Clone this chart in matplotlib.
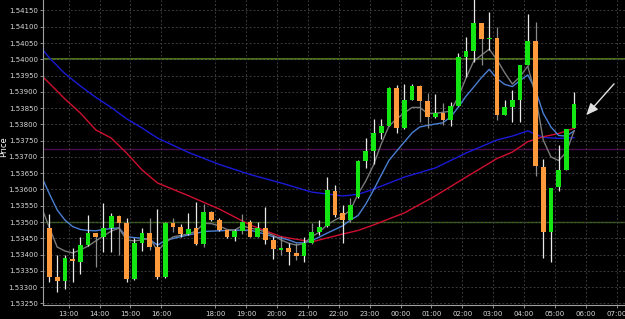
import matplotlib
matplotlib.use('Agg')
import matplotlib.pyplot as plt
import numpy as np

# ── 15-min candles (index 0..68) ──
opens = [1.53483, 1.53330, 1.53320, 1.53387, 1.53378, 1.53429, 1.53465, 1.53455, 1.53483, 1.53519,
         1.53496, 1.53325, 1.53435, 1.53465, 1.53424, 1.53330, 1.53496, 1.53486, 1.53463, 1.53481,
         1.53432, 1.53530, 1.53506, 1.53475, 1.53453, 1.53473, 1.53501, 1.53455, 1.53481, 1.53445,
         1.53414, 1.53419, 1.53406, 1.53396, 1.53436, 1.53468, 1.53489, 1.53596, 1.53527, 1.53506,
         1.53578, 1.53687, 1.53719, 1.53774, 1.53795, 1.53911, 1.53788, 1.53875, 1.53918, 1.53873,
         1.53822, 1.53834, 1.53813, 1.53856, 1.54006, 1.54026, 1.54112, 1.54061, 1.54066, 1.53829,
         1.53852, 1.53875, 1.53982, 1.54056, 1.53668, 1.53470, 1.53607, 1.53660, 1.53788]
highs = [1.53525, 1.53399, 1.53399, 1.53419, 1.53455, 1.53522, 1.53467, 1.53557, 1.53527, 1.53522,
         1.53511, 1.53450, 1.53481, 1.53511, 1.53539, 1.53499, 1.53511, 1.53494, 1.53527, 1.53562,
         1.53554, 1.53535, 1.53511, 1.53476, 1.53478, 1.53524, 1.53506, 1.53501, 1.53547, 1.53457,
         1.53457, 1.53435, 1.53435, 1.53453, 1.53496, 1.53506, 1.53639, 1.53614, 1.53552, 1.53573,
         1.53691, 1.53757, 1.53816, 1.53816, 1.53914, 1.53921, 1.53923, 1.53924, 1.53921, 1.53897,
         1.53893, 1.53865, 1.53870, 1.54018, 1.54069, 1.54190, 1.54112, 1.54146, 1.54100, 1.53875,
         1.53906, 1.53982, 1.54139, 1.54116, 1.53694, 1.53605, 1.53737, 1.53785, 1.53900]
lows = [1.53317, 1.53284, 1.53294, 1.53317, 1.53339, 1.53426, 1.53363, 1.53409, 1.53409, 1.53399,
        1.53317, 1.53322, 1.53412, 1.53414, 1.53325, 1.53328, 1.53470, 1.53455, 1.53460, 1.53430,
        1.53422, 1.53504, 1.53473, 1.53452, 1.53443, 1.53462, 1.53455, 1.53453, 1.53432, 1.53385,
        1.53399, 1.53368, 1.53383, 1.53378, 1.53432, 1.53460, 1.53486, 1.53516, 1.53435, 1.53499,
        1.53574, 1.53665, 1.53678, 1.53754, 1.53795, 1.53773, 1.53785, 1.53875, 1.53808, 1.53788,
        1.53819, 1.53798, 1.53795, 1.53856, 1.53947, 1.53993, 1.53982, 1.54029, 1.53813, 1.53829,
        1.53808, 1.53808, 1.53982, 1.53641, 1.53388, 1.53378, 1.53596, 1.53660, 1.53788]
closes = [1.53332, 1.53320, 1.53388, 1.53379, 1.53429, 1.53465, 1.53455, 1.53483, 1.53519, 1.53496,
          1.53325, 1.53435, 1.53465, 1.53424, 1.53330, 1.53496, 1.53486, 1.53463, 1.53479, 1.53432,
          1.53530, 1.53506, 1.53475, 1.53453, 1.53473, 1.53501, 1.53455, 1.53481, 1.53445, 1.53416,
          1.53421, 1.53407, 1.53396, 1.53436, 1.53470, 1.53486, 1.53598, 1.53522, 1.53506, 1.53552,
          1.53687, 1.53719, 1.53773, 1.53795, 1.53911, 1.53788, 1.53875, 1.53918, 1.53873, 1.53822,
          1.53834, 1.53813, 1.53856, 1.54006, 1.54026, 1.54112, 1.54061, 1.54066, 1.53829, 1.53852,
          1.53875, 1.53982, 1.54056, 1.53672, 1.53470, 1.53605, 1.53660, 1.53785, 1.53863]
grey_wicks = [6, 9, 13, 16, 20, 25, 30, 32, 34, 39, 48, 49, 51, 56, 58, 63]

# ── moving averages, one value per candle from index -1 ──
ma_fast = [1.53543, 1.53482, 1.53423, 1.53411, 1.53405, 1.53414, 1.53426, 1.53442, 1.53457, 1.53472,
           1.53481, 1.53445, 1.53442, 1.53445, 1.53451, 1.53411, 1.53436, 1.53454, 1.53459, 1.53463,
           1.53472, 1.53496, 1.53495, 1.53488, 1.53477, 1.53475, 1.53489, 1.53481, 1.53477, 1.53469,
           1.53459, 1.53445, 1.53435, 1.53429, 1.53434, 1.53455, 1.53469, 1.53492, 1.53506, 1.53518,
           1.53537, 1.53586, 1.53626, 1.53675, 1.53740, 1.53795, 1.53817, 1.53835, 1.53852, 1.53852,
           1.53834, 1.53834, 1.53837, 1.53841, 1.53885, 1.53943, 1.53995, 1.54013, 1.54031, 1.53999,
           1.53959, 1.53924, 1.53947, 1.53979, 1.53890, 1.53752, 1.53700, 1.53689, 1.53715, 1.53780]
ma_mid = [1.53638, 1.53586, 1.53537, 1.53506, 1.53486, 1.53477, 1.53474, 1.53473, 1.53477, 1.53480,
          1.53482, 1.53455, 1.53452, 1.53450, 1.53446, 1.53429, 1.53443, 1.53449, 1.53455, 1.53460,
          1.53465, 1.53471, 1.53472, 1.53473, 1.53474, 1.53475, 1.53475, 1.53475, 1.53469, 1.53462,
          1.53455, 1.53451, 1.53445, 1.53436, 1.53436, 1.53443, 1.53454, 1.53466, 1.53477, 1.53488,
          1.53506, 1.53520, 1.53555, 1.53598, 1.53644, 1.53689, 1.53718, 1.53746, 1.53774, 1.53792,
          1.53797, 1.53801, 1.53805, 1.53823, 1.53853, 1.53887, 1.53915, 1.53944, 1.53969, 1.53941,
          1.53923, 1.53916, 1.53935, 1.53952, 1.53906, 1.53834, 1.53792, 1.53766, 1.53764, 1.53780]

slow_x = [-1, 0, 2, 4, 6, 8, 10, 12, 14, 18, 22, 26, 30, 34, 38, 40, 42, 46, 50, 54, 58, 60, 62, 64, 66, 68]
ma_slow_blue = [1.54033, 1.54004, 1.53956, 1.53918, 1.53883, 1.53852, 1.53817, 1.53789, 1.53758, 1.53714,
                1.53677, 1.53646, 1.53620, 1.53592, 1.53580, 1.53585, 1.53601, 1.53638, 1.53666, 1.53712,
                1.53752, 1.53764, 1.53780, 1.53760, 1.53757, 1.53759]
ma_slow_red = [1.53949, 1.53926, 1.53878, 1.53835, 1.53783, 1.53758, 1.53712, 1.53660, 1.53620, 1.53581,
               1.53540, 1.53491, 1.53455, 1.53439, 1.53463, 1.53474, 1.53491, 1.53528, 1.53580, 1.53638,
               1.53695, 1.53715, 1.53747, 1.53762, 1.53772, 1.53788]

level_green = [1.54000, 1.53500]
level_purple = 1.53723

tick_pos = [2.5, 6.5, 10.5, 14.5, 21.5, 25.5, 29.5, 33.5, 37.5, 41.5, 45.5, 49.5,
            53.5, 57.5, 61.5, 65.5, 69.5, 73.5]
tick_lab = ['13:00', '14:00', '15:00', '16:00', '18:00', '19:00', '20:00', '21:00', '22:00',
            '23:00', '00:00', '01:00', '02:00', '03:00', '04:00', '05:00', '06:00', '07:00']
price_ticks = np.arange(1.5325, 1.54151, 0.0005)

BULL = '#14e614'
BEAR = '#ff9a3c'

fig = plt.figure(figsize=(6.25, 3.19), dpi=100, facecolor='black')
ax = fig.add_axes([0.0693, 0.0439, 0.9307, 0.9561], facecolor='black')

# grid + level lines
ax.grid(True, color='#3a3a3a', linestyle=(0, (2, 2)), linewidth=0.7, zorder=0)
ax.axhline(level_green[0], color='#5a8a1e', lw=1.2, zorder=1)
ax.axhline(level_green[1], color='#3d6b14', lw=1.0, zorder=1)
ax.axhline(level_purple, color='#4a0f4a', lw=1.0, zorder=1)

# moving averages
idx = np.arange(-1, len(opens))
ax.plot(slow_x, ma_slow_blue, color='#1a1ad8', lw=1.0, zorder=2)
ax.plot(slow_x, ma_slow_red, color='#d01030', lw=1.0, zorder=2)
ax.plot(idx, ma_mid, color='#4a7fd4', lw=1.0, zorder=2)
ax.plot(idx, ma_fast, color='#7a7a7a', lw=1.0, zorder=2)

# candles
x = np.arange(len(opens))
o = np.array(opens); c = np.array(closes)
wick_cols = ['#8a8a8a' if i in grey_wicks else '#e8e8e8' for i in x]
ax.vlines(x, lows, highs, colors=wick_cols, lw=0.9, zorder=3)
body_col = [BULL if cc >= oo else BEAR for oo, cc in zip(o, c)]
heights = np.maximum(np.abs(c - o), 0.00004)
ax.bar(x, heights, bottom=np.minimum(o, c), width=0.62, color=body_col, zorder=4)

# arrow
ax.annotate('', xy=(69.35, 1.53822), xytext=(73.42, 1.53931),
            arrowprops=dict(arrowstyle='-|>,head_length=0.7,head_width=0.3',
                            color='#e0e0e0', lw=1.0), zorder=5)

ax.set_xlim(-0.8, 74.6)
ax.set_ylim(1.53245, 1.541822)
ax.set_xticks(tick_pos)
ax.set_xticklabels(tick_lab)
ax.set_yticks(price_ticks)
ax.set_yticklabels([f'{v:.5f}' for v in price_ticks])
ax.tick_params(colors='#a0a0a0', labelcolor='#d8d8d8', labelsize=5, length=2.5,
               width=0.6, pad=1.5)
for s in ['top', 'right']:
    ax.spines[s].set_visible(False)
for s in ['left', 'bottom']:
    ax.spines[s].set_color('#a0a0a0')
    ax.spines[s].set_linewidth(0.8)
ax.set_ylabel('Price', color='white', fontsize=6)
ax.yaxis.set_label_coords(-0.061, 0.52)

fig.savefig('out.png', dpi=100, facecolor='black')
